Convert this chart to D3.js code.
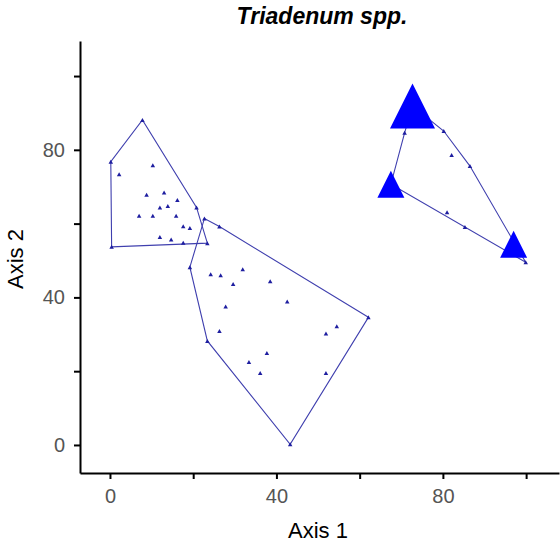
<!DOCTYPE html>
<html>
<head>
<meta charset="utf-8">
<script src="https://cdn.jsdelivr.net/npm/d3@7"></script>
<style>
  html, body { margin: 0; padding: 0; background: #fff; }
  svg { display: block; font-family: "Liberation Sans", Arial, sans-serif; }
</style>
</head>
<body>
<svg id="chart" width="560" height="546"></svg>
<script>
// Ordination scores for each plot, with its group and overlay value
const axis1Scores = [
  7.8, 0.2, 0.4, 23.4, 20.8, 2.2, 10.3, 8.8, 13.0, 16.2, 12.0, 13.9, 7.0, 10.3, 15.9, 17.6, 19.2, 12.0, 14.7, 17.6,
  22.7, 62.1, 43.3, 23.4, 19.2, 26.3, 24.2, 26.6, 31.9, 29.6, 38.5, 42.6, 27.8, 26.3, 54.5, 51.9, 37.7, 33.4, 36.1, 51.9,
  72.7, 67.5, 97.0, 70.8, 80.2, 82.1, 86.5, 81.0, 85.3, 99.9
];
const axis2Scores = [
  88.1, 76.8, 53.7, 54.7, 64.4, 73.4, 75.8, 67.8, 68.4, 66.4, 64.4, 64.8, 62.1, 62.1, 62.1, 59.3, 58.8, 56.4, 55.7, 54.8,
  61.4, 34.6, 0.2, 28.2, 48.2, 59.2, 46.3, 46.0, 47.6, 43.6, 44.4, 38.9, 37.5, 30.9, 32.2, 30.2, 24.9, 22.5, 19.5, 19.5,
  91.9, 70.7, 54.4, 84.6, 85.1, 78.6, 75.6, 63.1, 59.1, 49.5
];
const groupOf = [
  "A","A","A","A","A","A","A","A","A","A","A","A","A","A","A","A","A","A","A","A",
  "B","B","B","B","B","B","B","B","B","B","B","B","B","B","B","B","B","B","B","B",
  "C","C","C","C","C","C","C","C","C","C"
];
const overlayValue = [
  0,0,0,0,0,0,0,0,0,0,0,0,0,0,0,0,0,0,0,0,
  0,0,0,0,0,0,0,0,0,0,0,0,0,0,0,0,0,0,0,0,
  5,3,3,0,0,0,0,0,0,0
];
const groups = ["A", "B", "C"];
const tickValues = [0, 20, 40, 60, 80, 100];
const labelledTicks = [0, 40, 80];
const chartTitle = "Triadenum spp.";
const xTitle = "Axis 1";
const yTitle = "Axis 2";

const svg = d3.select("#chart");

const x = d3.scaleLinear().domain([-7.2, 107.9]).range([80, 559]);
const y = d3.scaleLinear().domain([-7.6, 109.5]).range([473, 41]);
const markerSize = d3.scaleLinear().domain([0, 5]).range([0, 45]);

const points = axis1Scores.map((v, i) => ({
  a1: v, a2: axis2Scores[i], group: groupOf[i], overlay: overlayValue[i]
}));

function triangle(cx, cy, w, h) {
  return `M${cx},${cy - h / 2}L${cx + w / 2},${cy + h / 2}L${cx - w / 2},${cy + h / 2}Z`;
}

// Convex hull around each group
const hullLayer = svg.append("g");
groups.forEach(g => {
  const pts = points.filter(p => p.group === g).map(p => [x(p.a1), y(p.a2)]);
  const hull = d3.polygonHull(pts);
  hullLayer.append("path")
    .attr("d", "M" + hull.join("L") + "Z")
    .attr("fill", "none")
    .attr("stroke", "#3f3fae")
    .attr("stroke-width", 1.1);
});

// Small plot markers
svg.append("g").selectAll("path")
  .data(points)
  .join("path")
  .attr("d", p => triangle(x(p.a1), y(p.a2), 4.5, 4))
  .attr("fill", "#1e1ea0");

// Overlay markers scaled by value
svg.append("g").selectAll("path")
  .data(points.filter(p => p.overlay > 0))
  .join("path")
  .attr("d", p => triangle(x(p.a1), y(p.a2), markerSize(p.overlay), markerSize(p.overlay)))
  .attr("fill", "#0000ff");

// Axes
const fmt = d => labelledTicks.includes(d) ? d : "";
const xAxis = svg.append("g")
  .attr("transform", "translate(0,473)")
  .call(d3.axisBottom(x).tickValues(tickValues).tickFormat(fmt).tickSize(6).tickSizeOuter(0).tickPadding(10));
const yAxis = svg.append("g")
  .attr("transform", "translate(80,0)")
  .call(d3.axisLeft(y).tickValues(tickValues).tickFormat(fmt).tickSize(6).tickSizeOuter(0).tickPadding(9));

[xAxis, yAxis].forEach(ax => {
  ax.select(".domain").attr("stroke", "#000").attr("stroke-width", 2);
  ax.selectAll(".tick line").attr("stroke", "#000").attr("stroke-width", 2);
  ax.selectAll(".tick text")
    .attr("fill", "#555")
    .style("font-size", "20px")
    .style("font-family", "\"Liberation Sans\", Arial, sans-serif");
});

// Titles
svg.append("text")
  .attr("x", 322).attr("y", 24)
  .attr("text-anchor", "middle")
  .style("font-size", "23px").style("font-weight", "bold").style("font-style", "italic")
  .text(chartTitle);

svg.append("text")
  .attr("x", 318).attr("y", 538)
  .attr("text-anchor", "middle")
  .style("font-size", "22px")
  .text(xTitle);

svg.append("text")
  .attr("transform", "translate(23,259) rotate(-90)")
  .attr("text-anchor", "middle")
  .style("font-size", "22px")
  .text(yTitle);
</script>
</body>
</html>
